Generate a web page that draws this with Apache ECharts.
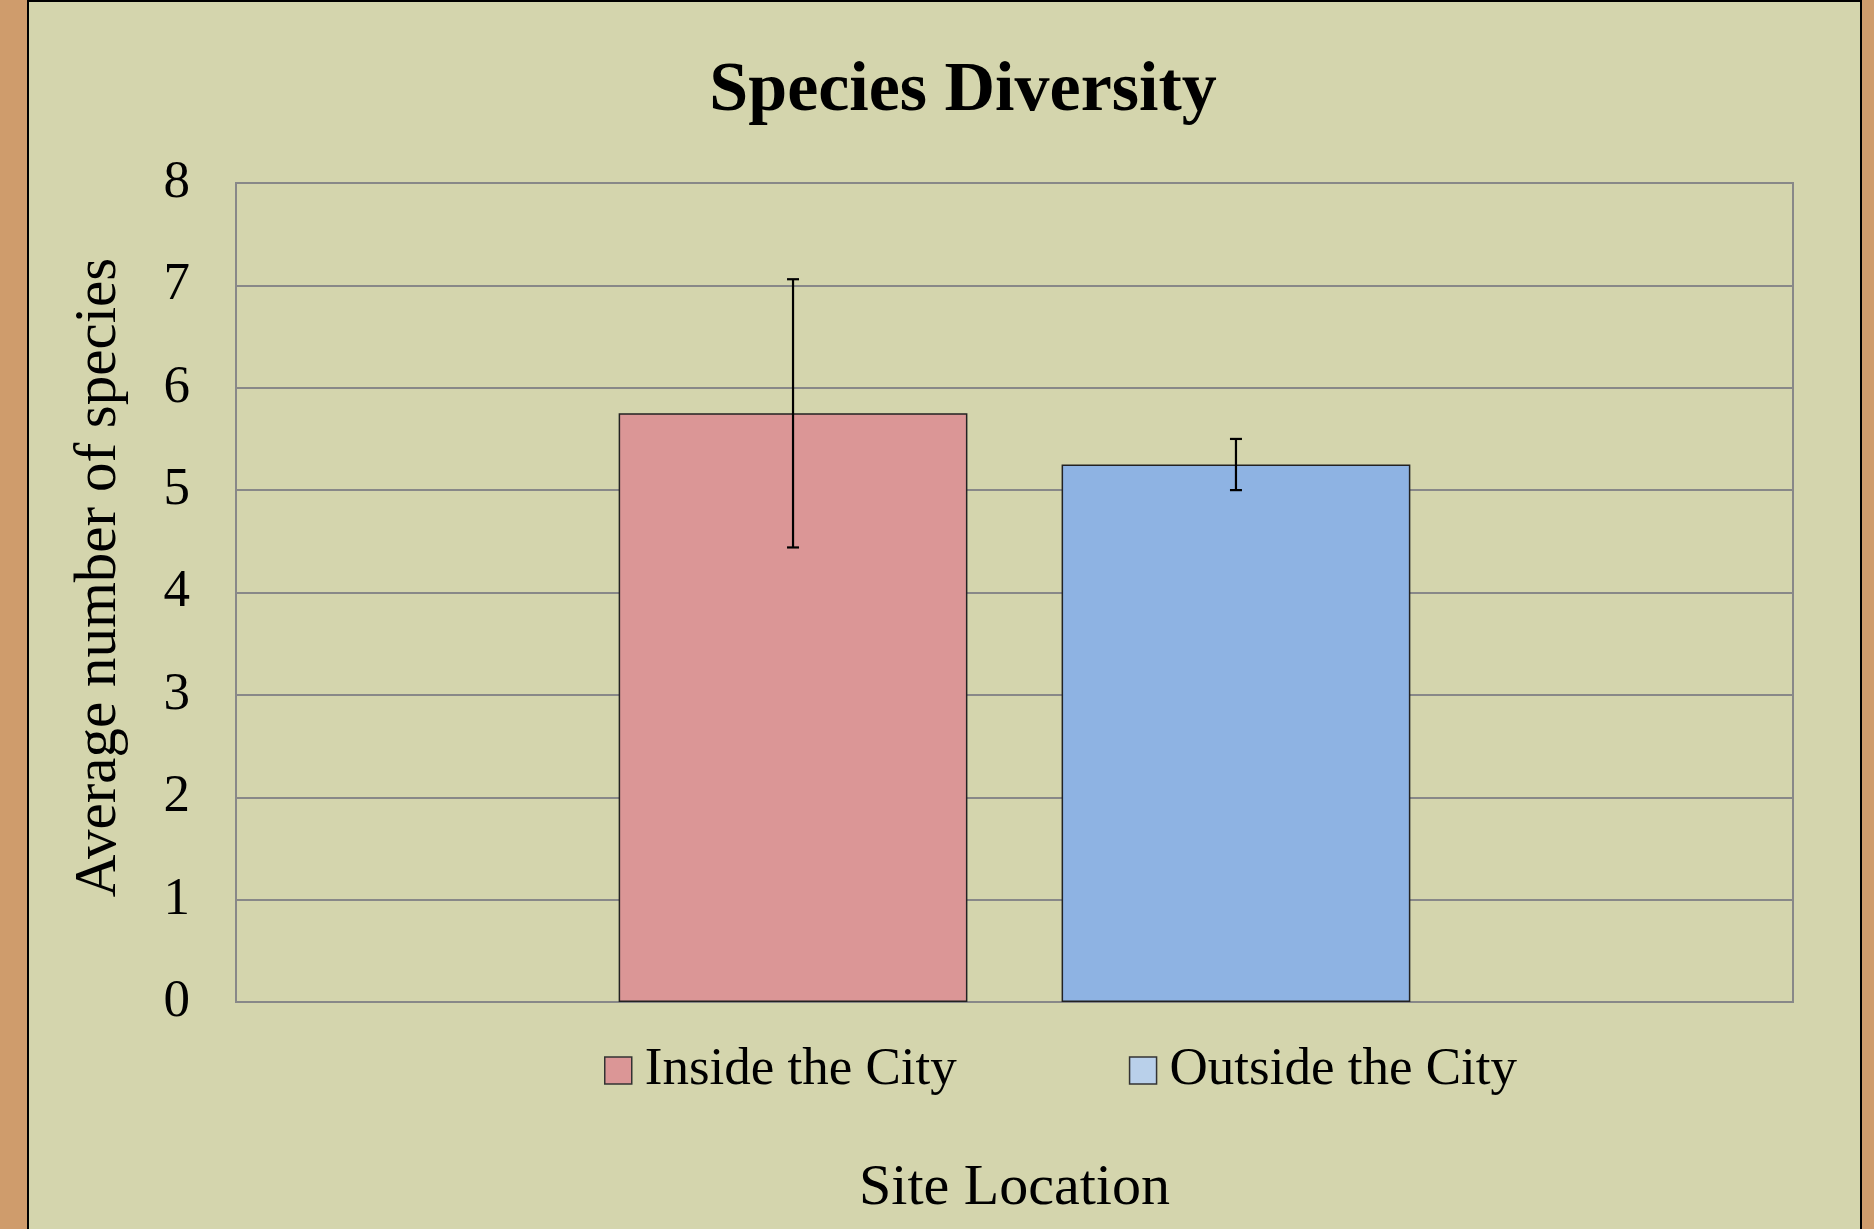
<!DOCTYPE html>
<html>
<head>
<meta charset="utf-8">
<script src="https://cdn.jsdelivr.net/npm/echarts@6/dist/echarts.min.js"></script>
<style>
  html, body { margin: 0; padding: 0; width: 1874px; height: 1229px; overflow: hidden; background: #cf9c6c; }
  #chart { position: absolute; left: 27px; top: 0; width: 1835px; height: 1229px; box-sizing: border-box;
           border-top: 2px solid #000; border-left: 2px solid #000; border-right: 2px solid #000; background: #d4d5ad; }
</style>
</head>
<body>
<div id="chart"></div>
<script>
// ---- data ----
const categories = [''];
const seriesNames = ['Inside the City', 'Outside the City'];
const insideValues = [5.75];
const outsideValues = [5.25];
const insideErrors = [1.31];
const outsideErrors = [0.25];
const yTicks = { min: 0, max: 8, interval: 1 };
const titleText = 'Species Diversity';
const xAxisName = 'Site Location';
const yAxisName = 'Average number of species';

// ---- styling ----
const FONT = "'Liberation Serif', 'Times New Roman', serif";
const BAR_W = 0.224;   // fraction of category band
const BAR_GAP = 0.27;  // fraction of bar width

function errData(values, errors, side) {
  return values.map((v, i) => [i, v - errors[i], v + errors[i], side]);
}

const chart = echarts.init(document.getElementById('chart'), null, { renderer: 'canvas' });

const option = {
  animation: false,
  graphic: [{
    type: 'text',
    x: 934, y: 90,
    style: { text: titleText, font: "bold 70px " + FONT, fill: '#000', align: 'center', verticalAlign: 'middle' }
  }],
  grid: { left: 207, top: 181, width: 1557, height: 819, show: true, borderColor: '#888', borderWidth: 2, backgroundColor: 'transparent' },
  legend: {
    left: 575, top: 1042, padding: 0,
    itemWidth: 27, itemHeight: 27, itemGap: 172,
    icon: 'rect',
    textStyle: { fontFamily: FONT, fontSize: 53, color: '#000', lineHeight: 53, padding: [0, 0, 0, 8] },
    data: [
      { name: seriesNames[0], itemStyle: { color: '#db9696', borderColor: '#333', borderWidth: 1.5 } },
      { name: seriesNames[1], itemStyle: { color: '#b9d0ea', borderColor: '#333', borderWidth: 1.5 } }
    ]
  },
  xAxis: {
    type: 'category', data: categories,
    name: xAxisName, nameLocation: 'middle', nameGap: 187,
    nameTextStyle: { fontFamily: FONT, fontSize: 58, color: '#000', verticalAlign: 'middle' },
    axisLine: { show: false }, axisTick: { show: false }, axisLabel: { show: false }, splitLine: { show: false }
  },
  yAxis: {
    type: 'value', min: yTicks.min, max: yTicks.max, interval: yTicks.interval,
    name: yAxisName, nameLocation: 'middle', nameGap: 137, nameRotate: 90,
    nameTextStyle: { fontFamily: FONT, fontSize: 59, color: '#000', verticalAlign: 'middle', padding: [0, 0, 0, 30] },
    axisLine: { show: false }, axisTick: { show: false },
    axisLabel: { fontFamily: FONT, fontSize: 53, color: '#000', margin: 46, padding: [12, 0, 0, 0] },
    splitLine: { lineStyle: { color: '#888', width: 2 } }
  },
  series: [
    {
      name: seriesNames[0], type: 'bar', data: insideValues,
      barWidth: (BAR_W * 100) + '%', barGap: (BAR_GAP * 100) + '%',
      itemStyle: { color: '#db9696', borderColor: '#222', borderWidth: 1.5 }
    },
    {
      name: seriesNames[1], type: 'bar', data: outsideValues,
      barWidth: (BAR_W * 100) + '%', barGap: (BAR_GAP * 100) + '%',
      itemStyle: { color: '#8eb3e3', borderColor: '#222', borderWidth: 1.5 }
    },
    {
      type: 'custom', name: 'errors', z: 10,
      encode: { x: 0, y: [1, 2] },
      data: errData(insideValues, insideErrors, -1).concat(errData(outsideValues, outsideErrors, 1)),
      renderItem: function (params, api) {
        const band = api.size([1, 0])[0];
        const bw = band * BAR_W;
        const off = api.value(3) * (bw + bw * BAR_GAP) / 2;
        const lo = api.coord([api.value(0), api.value(1)]);
        const hi = api.coord([api.value(0), api.value(2)]);
        const x = lo[0] + off;
        const cap = 6;
        const st = { stroke: '#000', lineWidth: 2.2 };
        return {
          type: 'group',
          children: [
            { type: 'line', shape: { x1: x, y1: lo[1], x2: x, y2: hi[1] }, style: st },
            { type: 'line', shape: { x1: x - cap, y1: lo[1], x2: x + cap, y2: lo[1] }, style: st },
            { type: 'line', shape: { x1: x - cap, y1: hi[1], x2: x + cap, y2: hi[1] }, style: st }
          ]
        };
      }
    }
  ]
};
chart.setOption(option);
</script>
</body>
</html>
